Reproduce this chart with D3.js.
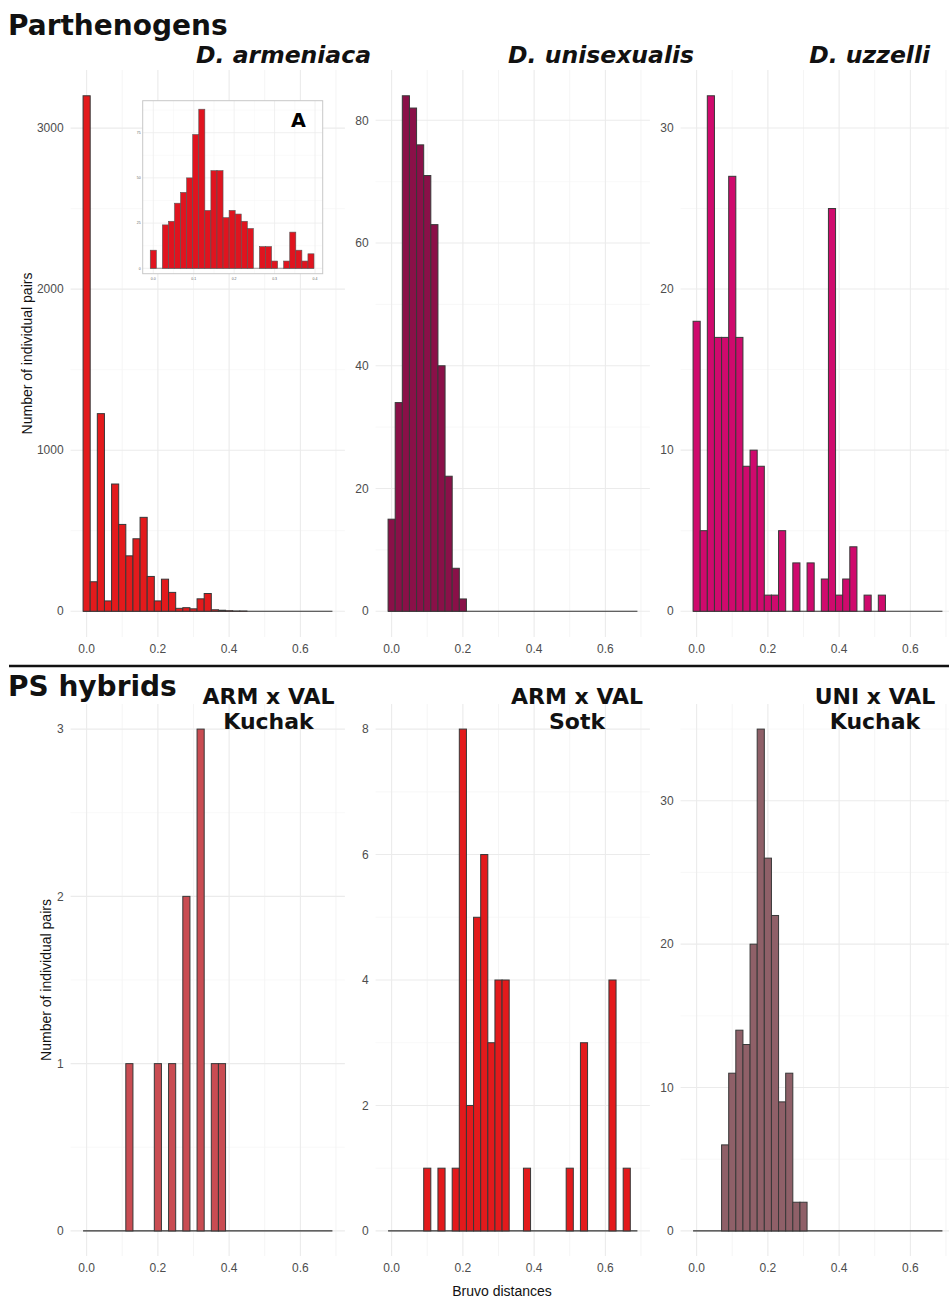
<!DOCTYPE html>
<html>
<head>
<meta charset="utf-8">
<style>
  body { margin: 0; background: #fff; }
  svg { display: block; }
</style>
</head>
<body>
<svg width="949" height="1299"></svg>
<script src="https://d3js.org/d3.v7.min.js"></script>
<script>
// histogram bins, width 0.02, centred on these values
const binCenters = [0, 0.02, 0.04, 0.06, 0.08, 0.10, 0.12, 0.14, 0.16, 0.18,
  0.20, 0.22, 0.24, 0.26, 0.28, 0.30, 0.32, 0.34, 0.36, 0.38,
  0.40, 0.42, 0.44, 0.46, 0.48, 0.50, 0.52, 0.54, 0.56, 0.58,
  0.60, 0.62, 0.64, 0.66, 0.68];
const binWidth = 0.02;

// counts per bin
const armeniaca = [3201, 183, 1227, 64, 790, 539, 344, 450, 583, 216,
  64, 199, 117, 18, 22, 15, 77, 110, 9, 6,
  3, 1, 1, 0, 0, 0, 0, 0, 0, 0, 0, 0, 0, 0, 0];
const unisexualis = [15, 34, 84, 82, 76, 71, 63, 40, 22, 7,
  2, 0, 0, 0, 0, 0, 0, 0, 0, 0,
  0, 0, 0, 0, 0, 0, 0, 0, 0, 0, 0, 0, 0, 0, 0];
const uzzelli = [18, 5, 32, 17, 17, 27, 17, 9, 10, 9,
  1, 1, 5, 0, 3, 0, 3, 0, 2, 25,
  1, 2, 4, 0, 1, 0, 1, 0, 0, 0, 0, 0, 0, 0, 0];
const armValKuchak = [0, 0, 0, 0, 0, 0, 1, 0, 0, 0,
  1, 0, 1, 0, 2, 0, 3, 0, 1, 1,
  0, 0, 0, 0, 0, 0, 0, 0, 0, 0, 0, 0, 0, 0, 0];
const armValSotk = [0, 0, 0, 0, 0, 1, 0, 1, 0, 1,
  8, 2, 5, 6, 3, 4, 4, 0, 0, 1,
  0, 0, 0, 0, 0, 1, 0, 3, 0, 0, 0, 4, 0, 1, 0];
const uniValKuchak = [0, 0, 0, 0, 6, 11, 14, 13, 20, 35,
  26, 22, 9, 11, 2, 2, 0, 0, 0, 0,
  0, 0, 0, 0, 0, 0, 0, 0, 0, 0, 0, 0, 0, 0, 0];

// inset (zoom of D. armeniaca), bin width 0.015
const insetCenters = [0, 0.015, 0.03, 0.045, 0.06, 0.075, 0.09, 0.105, 0.12, 0.135,
  0.15, 0.165, 0.18, 0.195, 0.21, 0.225, 0.24, 0.255, 0.27, 0.285,
  0.30, 0.315, 0.33, 0.345, 0.36, 0.375, 0.39];
const insetCounts = [10, 0, 24, 26, 36, 42, 50, 74, 88, 32,
  54, 54, 28, 32, 30, 26, 22, 0, 12, 12,
  4, 0, 4, 20, 10, 4, 8];
const insetBinWidth = 0.015;

// tick labels
const xTicks = [0, 0.2, 0.4, 0.6];
const xMinor = [0.1, 0.3, 0.5, 0.7];
const yTicksArm = [0, 1000, 2000, 3000];
const yTicksUni = [0, 20, 40, 60, 80];
const yTicksUzz = [0, 10, 20, 30];
const yTicksArmKuc = [0, 1, 2, 3];
const yTicksArmSot = [0, 2, 4, 6, 8];
const yTicksUniKuc = [0, 10, 20, 30];
const insetXTicks = [0, 0.1, 0.2, 0.3, 0.4];
const insetYTicks = [0, 25, 50, 75];

const topTitles = ["D. armeniaca", "D. unisexualis", "D. uzzelli"];
const bottomTitles = [["ARM x VAL", "Kuchak"], ["ARM x VAL", "Sotk"], ["UNI x VAL", "Kuchak"]];

const svg = d3.select("svg");
const gridMajor = "#ebebeb", gridMinor = "#f4f4f4";
const tickFont = "'Liberation Sans', Arial, sans-serif";
const boldFont = "'DejaVu Sans', sans-serif";

const pw = 274.3;
const lo = binCenters[0] - binWidth / 2, hi = binCenters[binCenters.length - 1] + binWidth / 2;
const xDomain = [lo - 0.05 * (hi - lo), hi + 0.05 * (hi - lo)];

function minorOf(ticks, dom) {
  const step = ticks[1] - ticks[0];
  const out = [];
  for (let i = -1; i < ticks.length; i++) {
    const v = ticks[0] + step * i + step / 2;
    if (v > dom[0] && v < dom[1]) out.push(v);
  }
  return out;
}

function drawPanel(p) {
  const g = svg.append("g");
  const x = d3.scaleLinear().domain(xDomain).range([p.left, p.left + pw]);
  const maxY = d3.max(p.counts);
  const y = d3.scaleLinear().domain([-0.05 * maxY, 1.05 * maxY]).range([p.top + p.h, p.top]);
  const yMinor = minorOf(p.yTicks, y.domain());

  g.selectAll(".ymin").data(yMinor).enter().append("line")
    .attr("x1", p.left).attr("x2", p.left + pw)
    .attr("y1", d => y(d)).attr("y2", d => y(d))
    .attr("stroke", gridMinor).attr("stroke-width", 0.6);
  g.selectAll(".xmin").data(xMinor).enter().append("line")
    .attr("x1", d => x(d)).attr("x2", d => x(d))
    .attr("y1", p.top).attr("y2", p.top + p.h)
    .attr("stroke", gridMinor).attr("stroke-width", 0.9);
  g.selectAll(".ymaj").data(p.yTicks).enter().append("line")
    .attr("x1", p.left).attr("x2", p.left + pw)
    .attr("y1", d => y(d)).attr("y2", d => y(d))
    .attr("stroke", gridMajor).attr("stroke-width", 1.1);
  g.selectAll(".xmaj").data(xTicks).enter().append("line")
    .attr("x1", d => x(d)).attr("x2", d => x(d))
    .attr("y1", p.top).attr("y2", p.top + p.h)
    .attr("stroke", gridMajor).attr("stroke-width", 1.1);

  // zero-count bins show as the baseline
  g.append("line")
    .attr("x1", x(lo)).attr("x2", x(hi))
    .attr("y1", y(0)).attr("y2", y(0))
    .attr("stroke", "#333").attr("stroke-width", 1.1);

  g.selectAll(".bar").data(binCenters.map((c, i) => ({c, n: p.counts[i]})).filter(d => d.n > 0))
    .enter().append("rect")
    .attr("x", d => x(d.c - binWidth / 2))
    .attr("width", d => x(d.c + binWidth / 2) - x(d.c - binWidth / 2))
    .attr("y", d => y(d.n))
    .attr("height", d => y(0) - y(d.n))
    .attr("fill", p.color)
    .attr("stroke", "#383838").attr("stroke-width", 1);

  g.selectAll(".yl").data(p.yTicks).enter().append("text")
    .attr("x", p.left - 7).attr("y", d => y(d)).attr("dy", "0.35em")
    .attr("text-anchor", "end")
    .attr("font-family", tickFont).attr("font-size", 12).attr("fill", "#4d4d4d")
    .text(d => d);
  g.selectAll(".xl").data(xTicks).enter().append("text")
    .attr("x", d => x(d)).attr("y", p.top + p.h + 16)
    .attr("text-anchor", "middle")
    .attr("font-family", tickFont).attr("font-size", 12).attr("fill", "#4d4d4d")
    .text(d => d3.format(".1f")(d));
  return {x, y};
}

const lefts = [70.6, 375.6, 680.6];
const topRow = [
  {counts: armeniaca, color: "#E31A1C", yTicks: yTicksArm},
  {counts: unisexualis, color: "#8A1048", yTicks: yTicksUni},
  {counts: uzzelli, color: "#CF0A6D", yTicks: yTicksUzz}
];
const bottomRow = [
  {counts: armValKuchak, color: "#C94C52", yTicks: yTicksArmKuc},
  {counts: armValSotk, color: "#E31A1C", yTicks: yTicksArmSot},
  {counts: uniValKuchak, color: "#8F6068", yTicks: yTicksUniKuc}
];
topRow.forEach((p, i) => drawPanel(Object.assign(p, {left: lefts[i], top: 70, h: 567})));
bottomRow.forEach((p, i) => drawPanel(Object.assign(p, {left: lefts[i], top: 704, h: 552})));

// inset
(function () {
  const box = {x0: 142.7, x1: 322.7, y0: 100.7, y1: 273.7};
  const g = svg.append("g");
  const x = d3.scaleLinear().domain([-0.0262, 0.419]).range([box.x0, box.x1]);
  const y = d3.scaleLinear().domain([-3, 92.7]).range([box.y1, box.y0]);
  g.append("rect").attr("x", box.x0).attr("y", box.y0)
    .attr("width", box.x1 - box.x0).attr("height", box.y1 - box.y0)
    .attr("fill", "#fff");
  g.selectAll(".ym").data([12.5, 37.5, 62.5, 87.5]).enter().append("line")
    .attr("x1", box.x0).attr("x2", box.x1).attr("y1", d => y(d)).attr("y2", d => y(d))
    .attr("stroke", "#f4f4f4").attr("stroke-width", 0.5);
  g.selectAll(".xm").data([0.05, 0.15, 0.25, 0.35]).enter().append("line")
    .attr("y1", box.y0).attr("y2", box.y1).attr("x1", d => x(d)).attr("x2", d => x(d))
    .attr("stroke", "#f4f4f4").attr("stroke-width", 0.5);
  g.selectAll(".yM").data(insetYTicks).enter().append("line")
    .attr("x1", box.x0).attr("x2", box.x1).attr("y1", d => y(d)).attr("y2", d => y(d))
    .attr("stroke", "#ececec").attr("stroke-width", 0.8);
  g.selectAll(".xM").data(insetXTicks).enter().append("line")
    .attr("y1", box.y0).attr("y2", box.y1).attr("x1", d => x(d)).attr("x2", d => x(d))
    .attr("stroke", "#ececec").attr("stroke-width", 0.8);
  g.append("line")
    .attr("x1", x(insetCenters[0] - insetBinWidth / 2))
    .attr("x2", x(insetCenters[insetCenters.length - 1] + insetBinWidth / 2))
    .attr("y1", y(0)).attr("y2", y(0))
    .attr("stroke", "#555").attr("stroke-width", 0.6);
  g.selectAll(".ib").data(insetCenters.map((c, i) => ({c, n: insetCounts[i]})).filter(d => d.n > 0))
    .enter().append("rect")
    .attr("x", d => x(d.c - insetBinWidth / 2))
    .attr("width", d => x(d.c + insetBinWidth / 2) - x(d.c - insetBinWidth / 2))
    .attr("y", d => y(d.n)).attr("height", d => y(0) - y(d.n))
    .attr("fill", "#E0141F").attr("stroke", "#555").attr("stroke-width", 0.6);
  g.append("rect").attr("x", box.x0).attr("y", box.y0)
    .attr("width", box.x1 - box.x0).attr("height", box.y1 - box.y0)
    .attr("fill", "none").attr("stroke", "#c8c8c8").attr("stroke-width", 1);
  g.selectAll(".iyl").data(insetYTicks).enter().append("text")
    .attr("x", box.x0 - 2).attr("y", d => y(d)).attr("dy", "0.35em")
    .attr("text-anchor", "end").attr("font-family", tickFont).attr("font-size", 3.5)
    .attr("fill", "#666").text(d => d);
  g.selectAll(".ixl").data(insetXTicks).enter().append("text")
    .attr("x", d => x(d)).attr("y", box.y1 + 6.5)
    .attr("text-anchor", "middle").attr("font-family", tickFont).attr("font-size", 3.5)
    .attr("fill", "#666").text(d => d3.format(".1f")(d));
  g.append("text").attr("x", 298.5).attr("y", 126.7).attr("text-anchor", "middle")
    .attr("font-family", boldFont).attr("font-weight", "bold").attr("font-size", 19.2)
    .attr("fill", "#000").text("A");
})();

// titles
svg.append("text").attr("x", 8).attr("y", 35)
  .attr("font-family", boldFont).attr("font-weight", "bold").attr("font-size", 28)
  .attr("fill", "#111").text("Parthenogens");
svg.append("text").attr("x", 8).attr("y", 696)
  .attr("font-family", boldFont).attr("font-weight", "bold").attr("font-size", 28)
  .attr("fill", "#111").text("PS hybrids");

const topTitleRight = [371, 694, 930];
svg.selectAll(".tt").data(topTitles).enter().append("text")
  .attr("x", (d, i) => topTitleRight[i]).attr("y", 63)
  .attr("text-anchor", "end")
  .attr("font-family", boldFont).attr("font-weight", "bold").attr("font-style", "italic")
  .attr("font-size", 23.5).attr("fill", "#111").text(d => d);

// two-line titles
const bottomTitleCenter = [268.5, 577, 875];
bottomTitles.forEach((lines, i) => {
  lines.forEach((s, j) => {
    svg.append("text").attr("x", bottomTitleCenter[i]).attr("y", 703.5 + j * 25.5)
      .attr("text-anchor", "middle")
      .attr("font-family", boldFont).attr("font-weight", "bold").attr("font-size", 22)
      .attr("fill", "#111").text(s);
  });
});

// separator
svg.append("line").attr("x1", 9).attr("x2", 949).attr("y1", 666).attr("y2", 666)
  .attr("stroke", "#111").attr("stroke-width", 2.5);

// axis titles
svg.append("text").attr("transform", "translate(32,353.5) rotate(-90)")
  .attr("text-anchor", "middle").attr("font-family", tickFont).attr("font-size", 14)
  .attr("fill", "#111").text("Number of individual pairs");
svg.append("text").attr("transform", "translate(51,980) rotate(-90)")
  .attr("text-anchor", "middle").attr("font-family", tickFont).attr("font-size", 14)
  .attr("fill", "#111").text("Number of individual pairs");
svg.append("text").attr("x", 502).attr("y", 1296)
  .attr("text-anchor", "middle").attr("font-family", tickFont).attr("font-size", 14)
  .attr("fill", "#111").text("Bruvo distances");
</script>
</body>
</html>
